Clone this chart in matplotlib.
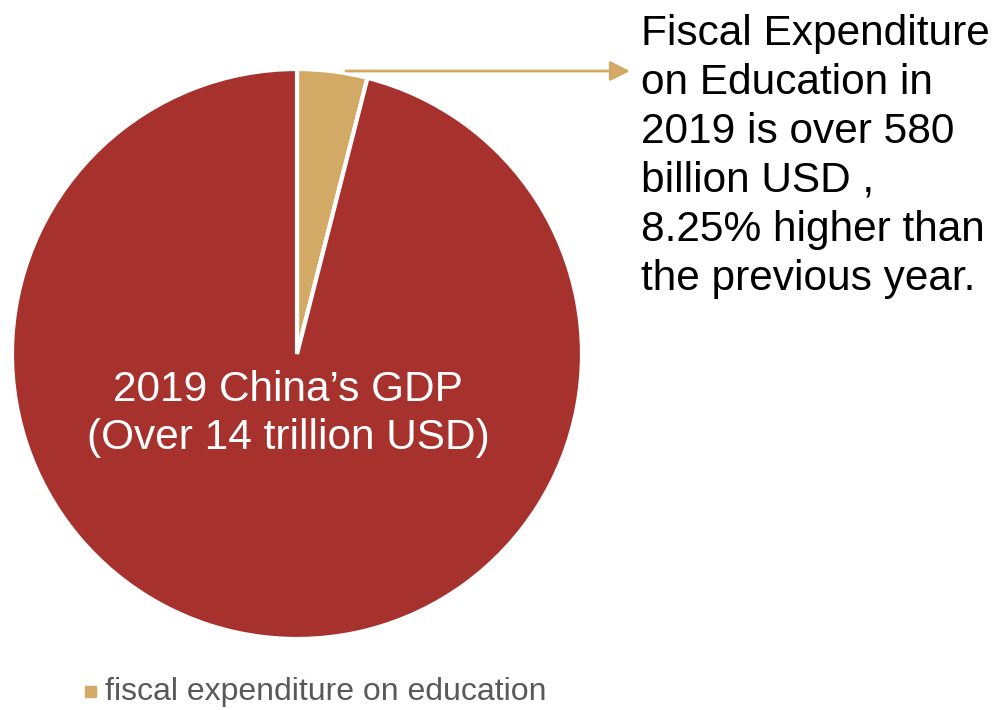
import matplotlib.pyplot as plt
from matplotlib.patches import Rectangle

# data (billion USD)
labels = ['fiscal expenditure on education', '2019 China\u2019s GDP']
values = [580, 14000]
colors = ['#D3A966', '#A6312D']

plt.rcParams['font.family'] = ['Liberation Sans', 'DejaVu Sans']

fig = plt.figure(figsize=(9.97, 7.1), dpi=100)
ax = fig.add_axes([0, 0, 1, 1])

ax.pie(values, colors=colors, startangle=90, counterclock=False,
       center=(297, 356), radius=285, frame=True,
       wedgeprops=dict(edgecolor='white', linewidth=3))
ax.set_xlim(0, 997)
ax.set_ylim(0, 710)
ax.set_aspect('equal')
ax.axis('off')

# inner label
ax.text(288, 296, '2019 China\u2019s GDP\n(Over 14 trillion USD)', color='white',
        fontsize=30.5, ha='center', va='center', linespacing=1.24)

# arrow to the annotation
ax.annotate('', xy=(630, 639), xytext=(346, 639),
            arrowprops=dict(arrowstyle='-|>', color='#D3A966', lw=2,
                            mutation_scale=30, shrinkA=0, shrinkB=0))

ax.text(641, 696, 'Fiscal Expenditure\non Education in\n2019 is over 580\nbillion USD ,\n'
        '8.25% higher than\nthe previous year.',
        fontsize=30.5, ha='left', va='top', color='black', linespacing=1.29)

# legend
ax.add_patch(Rectangle((85, 13), 11, 11, color=colors[0]))
ax.text(105, 18, labels[0], fontsize=23, color='#595959', ha='left', va='center')

fig.savefig('out.png', dpi=100)
